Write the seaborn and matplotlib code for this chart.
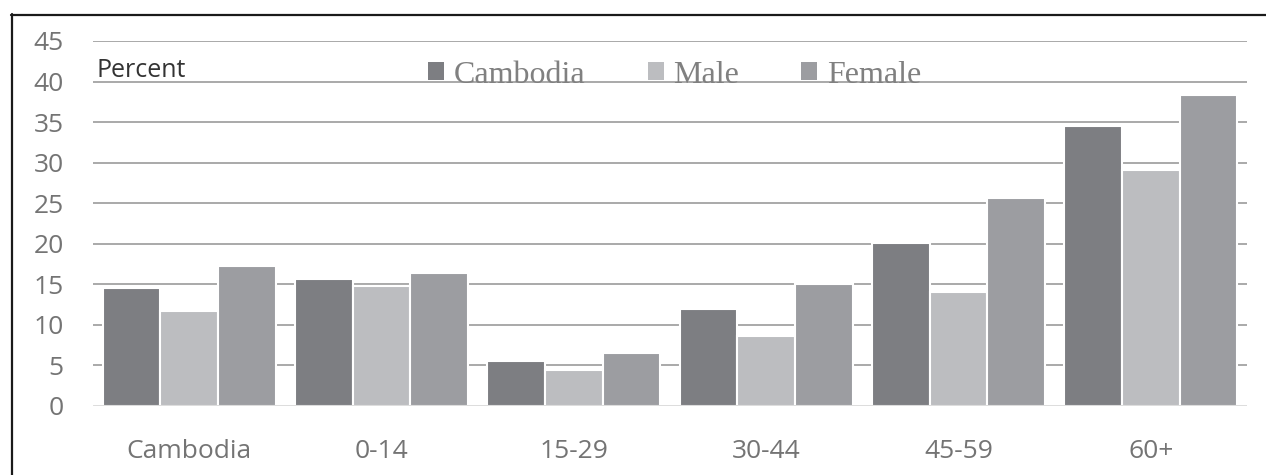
import matplotlib.pyplot as plt
import pandas as pd
import seaborn as sns
from matplotlib.lines import Line2D
from matplotlib.patches import Patch

groups = ["Cambodia", "0-14", "15-29", "30-44", "45-59", "60+"]
series = ["Cambodia", "Male", "Female"]
cambodia = [14.5, 15.6, 5.5, 11.9, 20.1, 34.5]
male = [11.7, 14.8, 4.4, 8.6, 14.1, 29.1]
female = [17.2, 16.4, 6.5, 15.0, 25.6, 38.3]
yticks = [0, 5, 10, 15, 20, 25, 30, 35, 40, 45]
colors = ["#7d7e82", "#bcbdc0", "#9c9da1"]

df = pd.DataFrame({
    "Group": groups * 3,
    "Series": ["Cambodia"] * 6 + ["Male"] * 6 + ["Female"] * 6,
    "Percent": cambodia + male + female,
})

sns.set_style("white")
plt.rcParams['font.family'] = ['Open Sans', 'DejaVu Sans']

fig = plt.figure(figsize=(12.66, 4.75), dpi=100)
ax = fig.add_axes([0.0735, 0.1453, 0.9115, 0.7684])

sns.barplot(data=df, x="Group", y="Percent", hue="Series", hue_order=series,
            palette=colors, width=0.9, edgecolor="white", linewidth=1.5,
            saturation=1, ax=ax, legend=False, zorder=3)

ax.set_ylim(0, 45)
ax.set_xlim(-0.5, 5.5)
ax.set_yticks(yticks)
for y in yticks[1:]:
    ax.axhline(y, color="#a9a9a9", lw=1.4, zorder=1)
ax.axhline(0, color="#d9d9d9", lw=2, zorder=4)
ax.tick_params(axis="both", length=0, labelsize=19, colors="#747474")
ax.tick_params(axis="x", pad=24)
ax.tick_params(axis="y", pad=21)
ax.set_xlabel("")
ax.set_ylabel("")
for s in ax.spines.values():
    s.set_visible(False)

ax.text(0.003, 0.9, "Percent", transform=ax.transAxes, fontsize=18,
        color="#333333", va="baseline")

handles = [Patch(facecolor=c, edgecolor="none") for c in colors]
leg = fig.legend(handles, series, loc="center", bbox_to_anchor=(0.533, 0.842), ncol=3,
                 frameon=False, prop={"family": "Liberation Serif", "size": 23},
                 handlelength=0.5, handleheight=0.5, handletextpad=0.3,
                 columnspacing=1.95, labelcolor="#808080")

# outer frame: top and left edges only
fig.add_artist(Line2D([11 / 1266, 1], [1 - 14.5 / 475] * 2, color="#1a1a1a", lw=1.6,
                      transform=fig.transFigure))
fig.add_artist(Line2D([11.5 / 1266] * 2, [0, 1 - 14 / 475], color="#1a1a1a", lw=1.6,
                      transform=fig.transFigure))

fig.savefig("out.png", dpi=100, facecolor="white")
